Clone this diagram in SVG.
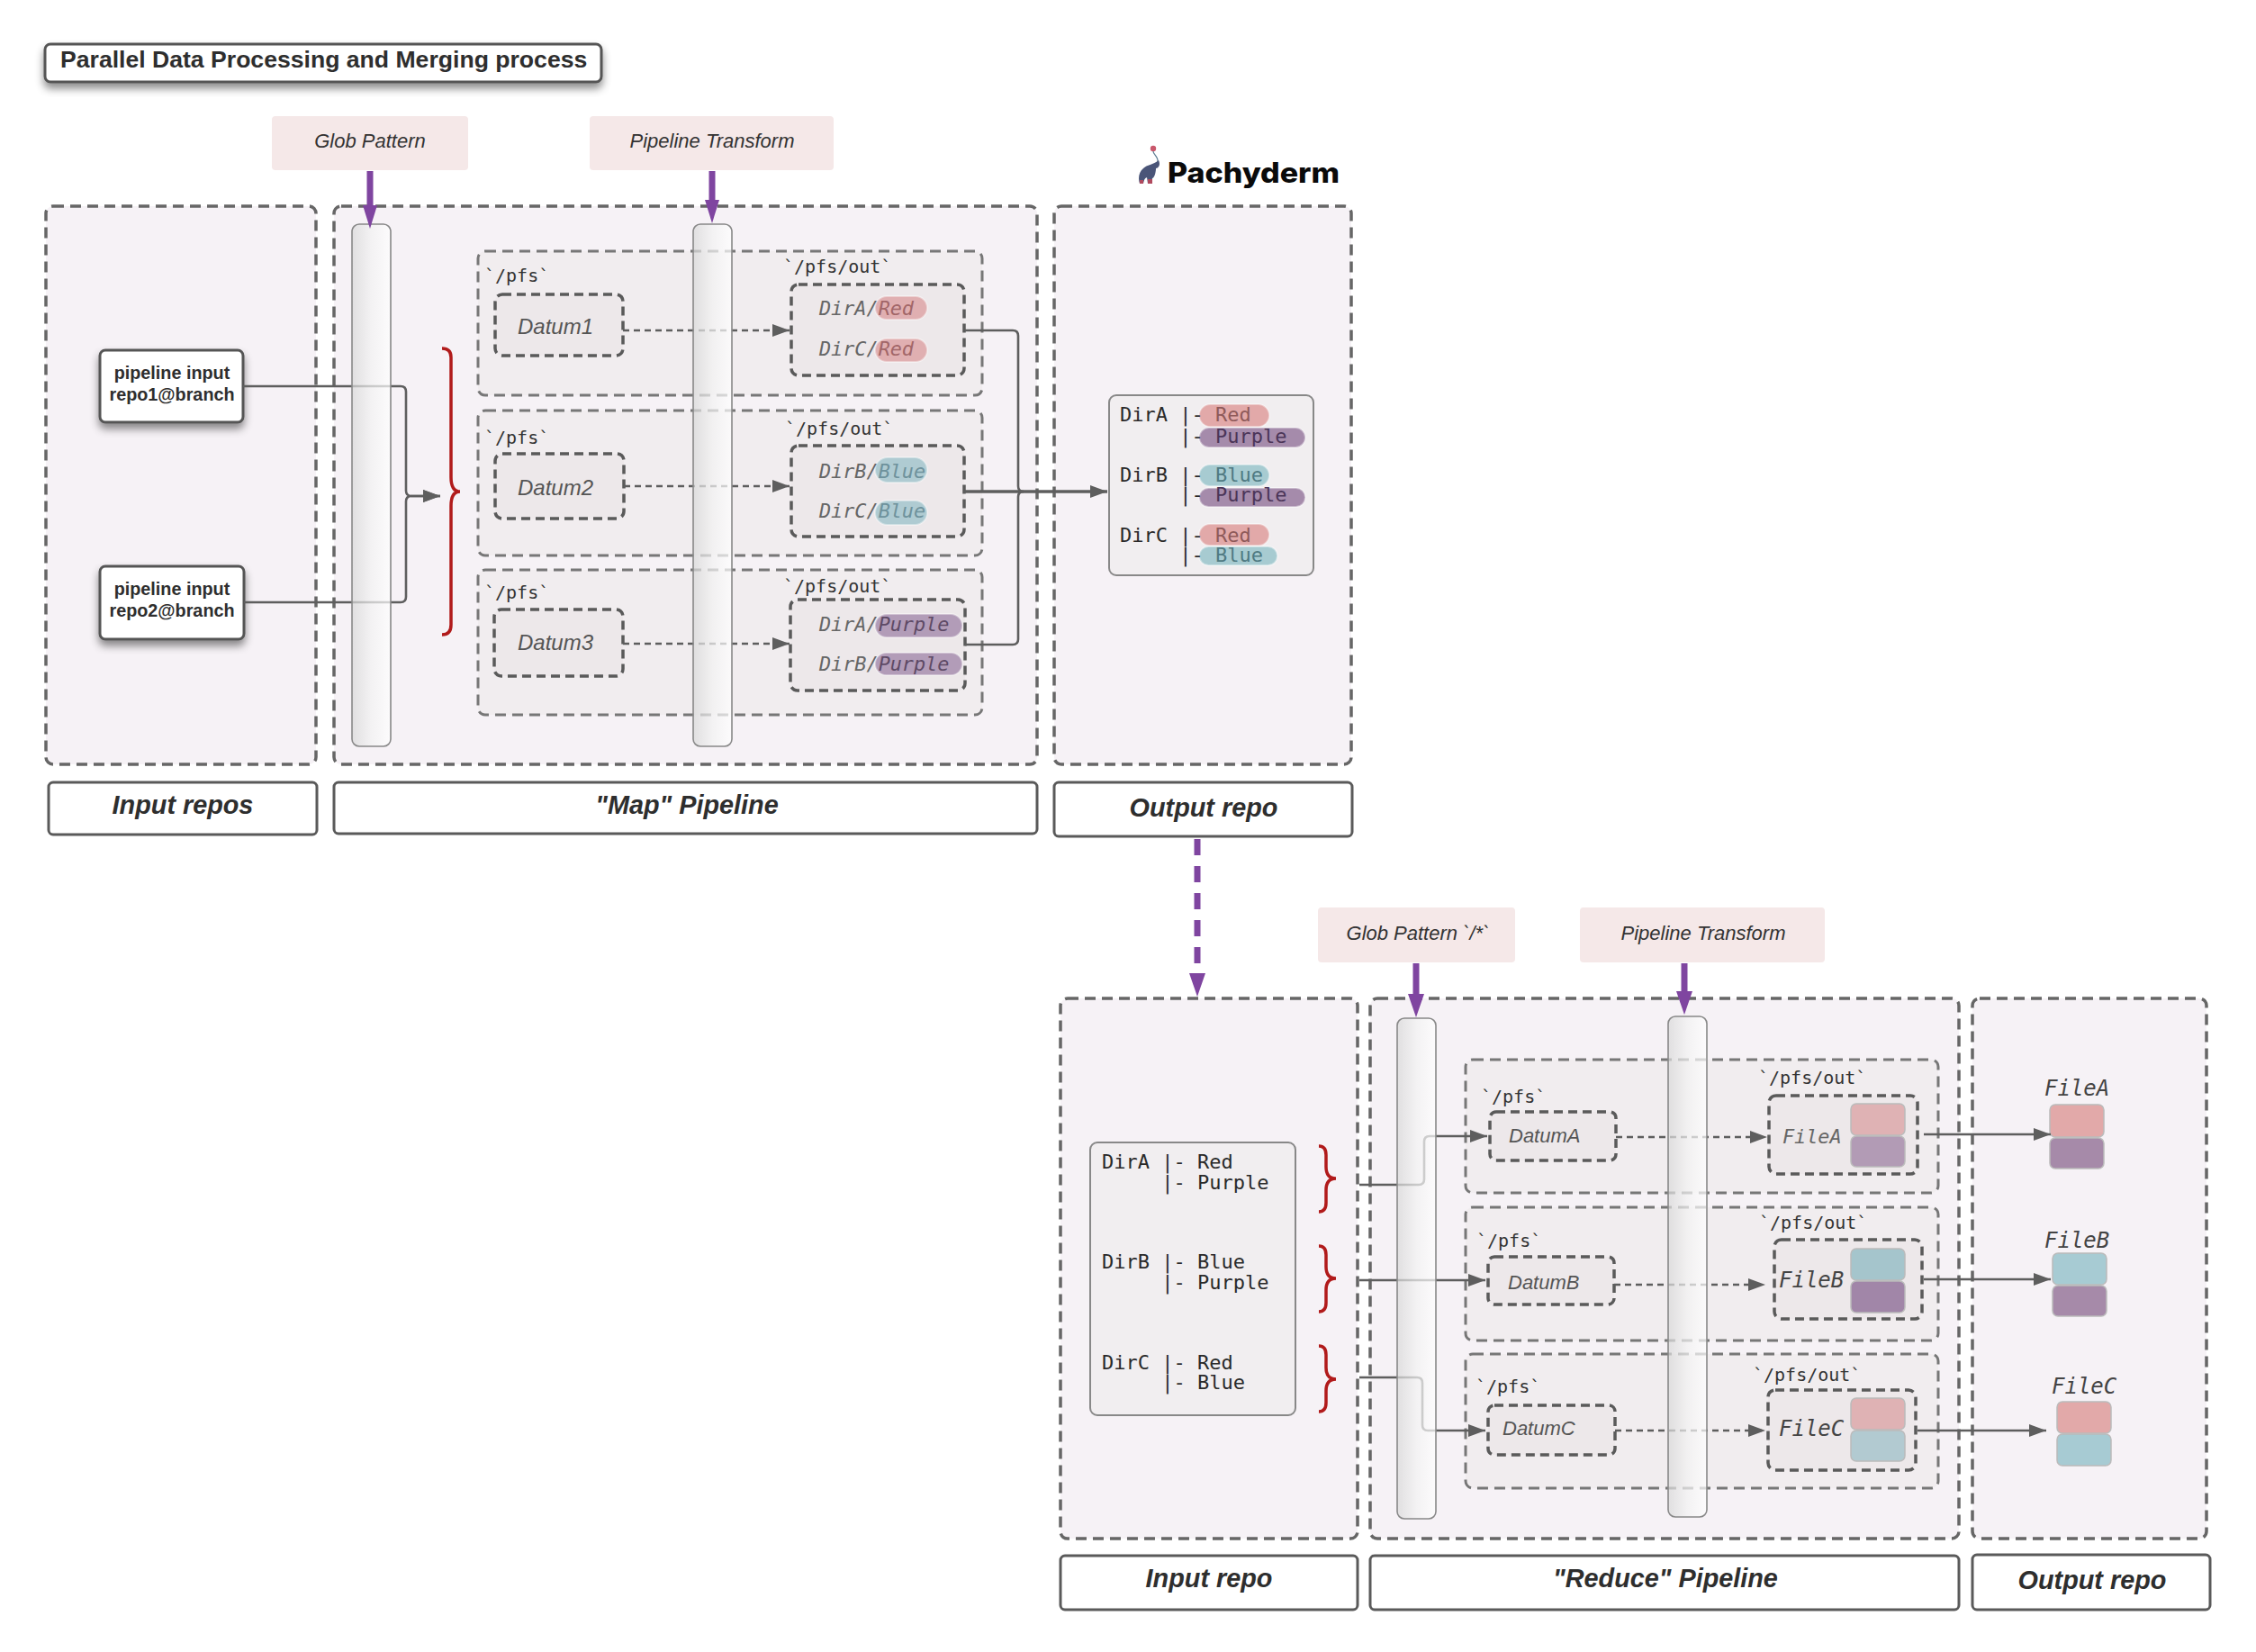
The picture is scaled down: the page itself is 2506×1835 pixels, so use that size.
<svg xmlns="http://www.w3.org/2000/svg" width="2506" height="1835" viewBox="0 0 2506 1835">
<style>
text{white-space:pre}
.sans{font-family:"Liberation Sans",Arial,sans-serif}
.mono{font-family:"DejaVu Sans Mono",monospace;fill:#333}
.cont{fill:#f6f2f6;stroke:#666;stroke-width:3.5;stroke-dasharray:12 7}
.pfs{fill:#f1edef;stroke:#777;stroke-width:3;stroke-dasharray:12 7}
.inner{fill:#ede8ea;stroke:#5a5a5a;stroke-width:3.5;stroke-dasharray:10 6}
.lab{fill:#fff;stroke:#5a5a5a;stroke-width:3}
.labt{font:italic bold 28.8px "Liberation Sans",Arial,sans-serif;fill:#2e2e2e;text-anchor:middle}
.pink{fill:#f5e8e8}
.pinkt{font:italic 22px "Liberation Sans",Arial,sans-serif;fill:#333;text-anchor:middle}
.dat{font:italic 24px "Liberation Sans",Arial,sans-serif;fill:#555}
.dat2{font:italic 22px "Liberation Sans",Arial,sans-serif;fill:#555}
.pfst{font-size:20px}
.dir{font-size:21.8px;font-style:italic;fill:#666}
.tree{font-size:22px;fill:#2a2a2a}
.file{font-size:24px;font-style:italic;fill:#444}
.pill{stroke:#fff;stroke-opacity:.4;stroke-width:2}
.r{fill:#e2a9a9}.b{fill:#a7cbd1}.p{fill:#a58bab}.pl{fill:#b29cb8}
.rl{fill:#e0afb1}.bl{fill:#afcbd2}
.tr{fill:#8f5a5a}.tb{fill:#4f7a82}.tp{fill:#4b3558}
.trl{fill:#a26668}.tbl{fill:#6e929c}.tpl{fill:#5e4a66}
.block{stroke:#bbb;stroke-width:1.5}
.box{fill:#f1eef0;stroke:#888;stroke-width:2}
.pillar{fill:url(#pg);stroke:#888;stroke-width:1.6}
.conn{fill:none;stroke:#5e5e5e;stroke-width:2.6}
.main{fill:none;stroke:#5e5e5e;stroke-width:3.4}
.dash{fill:none;stroke:#5e5e5e;stroke-width:2.6;stroke-dasharray:7 5}
.ph{fill:#5e5e5e}
.brace{fill:none;stroke:#b11b1b;stroke-width:3.5}
.pur{fill:none;stroke:#7f45a0;stroke-width:7}
.purh{fill:#7f45a0}
</style>
<defs>
<linearGradient id="pg" x1="0" x2="1" y1="0" y2="0"><stop offset="0" stop-color="#d8d8d8" stop-opacity=".72"/><stop offset=".5" stop-color="#f2f2f2" stop-opacity=".72"/><stop offset="1" stop-color="#ffffff" stop-opacity=".72"/></linearGradient>
<filter id="sh" x="-10%" y="-30%" width="120%" height="170%"><feDropShadow dx="0" dy="6" stdDeviation="5" flood-color="#000" flood-opacity=".45"/></filter>
<marker id="ah" viewBox="0 0 19 14" refX="19" refY="7" markerUnits="userSpaceOnUse" markerWidth="19" markerHeight="14" orient="auto"><path class="ph" d="M0 0L19 7L0 14Z"/></marker>
</defs>

<g id="title"><rect x="50" y="49" width="618" height="42" rx="6" fill="#fff" stroke="#555" stroke-width="3" filter="url(#sh)"/><text class="sans" x="67" y="75" font-size="26.6" font-weight="700" fill="#2e2e2e">Parallel Data Processing and Merging process</text></g>

<g id="logo">
<circle cx="1281" cy="165" r="3.2" fill="#c9586c"/><path d="M1281 168C1281 172 1287 174 1286 180" fill="none" stroke="#5a7a90" stroke-width="1.2"/>
<path d="M1287 178C1289 182 1288 186 1284 187C1284 192 1282 198 1280 198L1279 204H1275L1274 197C1272 198 1271 199 1270 204H1266C1264 198 1265 191 1270 187C1274 183 1281 183 1287 178Z" fill="#4a5578"/>
<rect x="1275" y="199" width="5" height="5" fill="#b04a5e"/><rect x="1266" y="200" width="4" height="4" fill="#b04a5e"/>
<text x="1297" y="203" font-family="Inter,sans-serif" font-size="31" font-weight="800" fill="#0a0a0a" textLength="191" lengthAdjust="spacingAndGlyphs">Pachyderm</text></g>

<g id="containers">
<rect id="input-repos" class="cont" x="51" y="229" width="300" height="620" rx="8"/>
<rect id="map-pipeline" class="cont" x="371" y="229" width="781" height="620" rx="8"/>
<rect id="output-repo" class="cont" x="1171" y="229" width="330" height="620" rx="8"/>
<rect id="input-repo" class="cont" x="1178" y="1109" width="330" height="600" rx="8"/>
<rect id="reduce-pipeline" class="cont" x="1522" y="1109" width="654" height="600" rx="8"/>
<rect id="output-repo2" class="cont" x="2191" y="1109" width="260" height="600" rx="8"/>
</g>

<g id="bar-labels">
<g id="l1"><rect class="lab" x="54" y="869" width="298" height="58" rx="5"/><text class="labt" x="203" y="904">Input repos</text></g>
<g id="l2"><rect class="lab" x="371" y="869" width="781" height="57" rx="5"/><text class="labt" x="763" y="904">"Map" Pipeline</text></g>
<g id="l3"><rect class="lab" x="1171" y="869" width="331" height="60" rx="5"/><text class="labt" x="1337" y="907">Output repo</text></g>
<g id="l4"><rect class="lab" x="1178" y="1728" width="330" height="60" rx="5"/><text class="labt" x="1343" y="1763">Input repo</text></g>
<g id="l5"><rect class="lab" x="1522" y="1728" width="654" height="60" rx="5"/><text class="labt" x="1850" y="1763">"Reduce" Pipeline</text></g>
<g id="l6"><rect class="lab" x="2191" y="1727" width="264" height="61" rx="5"/><text class="labt" x="2324" y="1765">Output repo</text></g>
</g>

<g id="callouts">
<g id="glob1"><rect class="pink" x="302" y="129" width="218" height="60" rx="4"/><text class="pinkt" x="411" y="164">Glob Pattern</text></g>
<g id="pt1"><rect class="pink" x="655" y="129" width="271" height="60" rx="4"/><text class="pinkt" x="791" y="164">Pipeline Transform</text></g>
<g id="glob2"><rect class="pink" x="1464" y="1008" width="219" height="61" rx="4"/><text class="pinkt" x="1575" y="1044">Glob Pattern `/*`</text></g>
<g id="pt2"><rect class="pink" x="1755" y="1008" width="272" height="61" rx="4"/><text class="pinkt" x="1892" y="1044">Pipeline Transform</text></g>
</g>

<g id="map-rows">
<g id="map1"><rect class="pfs" x="531" y="279" width="560" height="160" rx="8"/><text class="mono pfst" x="538" y="313">`/pfs`</text><text class="mono pfst" x="870" y="303">`/pfs/out`</text>
<rect class="inner" x="550" y="327" width="142" height="68" rx="8"/><text class="dat" x="575" y="371">Datum1</text>
<rect class="inner" x="879" y="316" width="192" height="101" rx="8"/>
<rect class="pill rl" x="972" y="329" width="58" height="26" rx="13"/><rect class="pill rl" x="972" y="376" width="58" height="26" rx="13"/>
<text class="mono dir" x="910" y="350">DirA/<tspan class="trl">Red</tspan></text><text class="mono dir" x="910" y="395">DirC/<tspan class="trl">Red</tspan></text></g>
<g id="map2"><rect class="pfs" x="531" y="456" width="560" height="161" rx="8"/><text class="mono pfst" x="538" y="493">`/pfs`</text><text class="mono pfst" x="872" y="483">`/pfs/out`</text>
<rect class="inner" x="550" y="504" width="143" height="72" rx="8"/><text class="dat" x="575" y="550">Datum2</text>
<rect class="inner" x="879" y="495" width="192" height="101" rx="8"/>
<rect class="pill bl" x="972" y="508" width="58" height="28" rx="14"/><rect class="pill bl" x="972" y="556" width="58" height="27" rx="13.5"/>
<text class="mono dir" x="910" y="531">DirB/<tspan class="tbl">Blue</tspan></text><text class="mono dir" x="910" y="575">DirC/<tspan class="tbl">Blue</tspan></text></g>
<g id="map3"><rect class="pfs" x="531" y="633" width="560" height="161" rx="8"/><text class="mono pfst" x="538" y="665">`/pfs`</text><text class="mono pfst" x="870" y="658">`/pfs/out`</text>
<rect class="inner" x="549" y="677" width="143" height="74" rx="8"/><text class="dat" x="575" y="722">Datum3</text>
<rect class="inner" x="878" y="666" width="194" height="101" rx="8"/>
<rect class="pill pl" x="972" y="682" width="97" height="26" rx="13"/><rect class="pill pl" x="972" y="725" width="97" height="25" rx="12.5"/>
<text class="mono dir" x="910" y="701">DirA/<tspan class="tpl">Purple</tspan></text><text class="mono dir" x="910" y="745">DirB/<tspan class="tpl">Purple</tspan></text></g>
</g>

<g id="reduce-rows">
<g id="redA"><rect class="pfs" x="1628" y="1177" width="525" height="148" rx="8"/><text class="mono pfst" x="1645" y="1225">`/pfs`</text><text class="mono pfst" x="1953" y="1204">`/pfs/out`</text>
<rect class="inner" x="1655" y="1235" width="140" height="54" rx="7"/><text class="dat2" x="1676" y="1269">DatumA</text>
<rect class="inner" x="1965" y="1217" width="165" height="87" rx="8"/><text class="mono dir" x="1980" y="1270">FileA</text>
<rect class="block" x="2056" y="1226" width="60" height="35" rx="6" fill="#dfb2b4"/><rect class="block" x="2056" y="1262" width="60" height="34" rx="6" fill="#b29bb5"/></g>
<g id="redB"><rect class="pfs" x="1628" y="1341" width="525" height="148" rx="8"/><text class="mono pfst" x="1640" y="1385">`/pfs`</text><text class="mono pfst" x="1954" y="1365">`/pfs/out`</text>
<rect class="inner" x="1653" y="1396" width="140" height="53" rx="7"/><text class="dat2" x="1675" y="1432">DatumB</text>
<rect class="inner" x="1971" y="1377" width="164" height="88" rx="8"/><text class="mono file" x="1976" y="1430">FileB</text>
<rect class="block" x="2056" y="1387" width="60" height="35" rx="6" fill="#a5c5cc"/><rect class="block" x="2056" y="1423" width="60" height="35" rx="6" fill="#a186a8"/></g>
<g id="redC"><rect class="pfs" x="1628" y="1504" width="525" height="149" rx="8"/><text class="mono pfst" x="1639" y="1547">`/pfs`</text><text class="mono pfst" x="1947" y="1534">`/pfs/out`</text>
<rect class="inner" x="1653" y="1561" width="141" height="55" rx="7"/><text class="dat2" x="1669" y="1594">DatumC</text>
<rect class="inner" x="1964" y="1544" width="164" height="89" rx="8"/><text class="mono file" x="1976" y="1595">FileC</text>
<rect class="block" x="2056" y="1553" width="60" height="35" rx="6" fill="#dfb2b4"/><rect class="block" x="2056" y="1589" width="60" height="34" rx="6" fill="#b2cad1"/></g>
</g>

<g id="pipeline-input-1"><rect x="111" y="389" width="159" height="80" rx="6" fill="#fff" stroke="#555" stroke-width="3" filter="url(#sh)"/><text class="sans" font-size="19.8" font-weight="700" fill="#2e2e2e" text-anchor="middle"><tspan x="191" y="421">pipeline input</tspan><tspan x="191" y="445">repo1@branch</tspan></text></g>
<g id="pipeline-input-2"><rect x="111" y="629" width="160" height="81" rx="6" fill="#fff" stroke="#555" stroke-width="3" filter="url(#sh)"/><text class="sans" font-size="19.8" font-weight="700" fill="#2e2e2e" text-anchor="middle"><tspan x="191" y="661">pipeline input</tspan><tspan x="191" y="685">repo2@branch</tspan></text></g>

<g id="output-tree"><rect class="box" x="1232" y="439" width="227" height="200" rx="8"/>
<rect class="pill r" x="1332" y="449" width="78" height="25" rx="12.5"/><rect class="pill p" x="1332" y="475" width="118" height="22" rx="11"/>
<rect class="pill b" x="1332" y="516" width="78" height="24" rx="12"/><rect class="pill p" x="1332" y="542" width="118" height="21" rx="10.5"/>
<rect class="pill r" x="1332" y="582" width="78" height="24" rx="12"/><rect class="pill b" x="1332" y="607" width="87" height="21" rx="10.5"/>
<text class="mono tree" x="1244" y="468">DirA |- <tspan class="tr">Red</tspan></text><text class="mono tree" x="1244" y="492">     |- <tspan class="tp">Purple</tspan></text>
<text class="mono tree" x="1244" y="535">DirB |- <tspan class="tb">Blue</tspan></text><text class="mono tree" x="1244" y="557">     |- <tspan class="tp">Purple</tspan></text>
<text class="mono tree" x="1244" y="602">DirC |- <tspan class="tr">Red</tspan></text><text class="mono tree" x="1244" y="624">     |- <tspan class="tb">Blue</tspan></text></g>

<g id="input-tree"><rect class="box" x="1211" y="1269" width="228" height="303" rx="8"/>
<text class="mono tree" x="1224" y="1298">DirA |- Red</text><text class="mono tree" x="1224" y="1321">     |- Purple</text>
<text class="mono tree" x="1224" y="1409">DirB |- Blue</text><text class="mono tree" x="1224" y="1432">     |- Purple</text>
<text class="mono tree" x="1224" y="1521">DirC |- Red</text><text class="mono tree" x="1224" y="1543">     |- Blue</text></g>

<g id="outputs">
<g id="fileA"><text class="mono file" x="2271" y="1217">FileA</text><rect class="block" x="2277" y="1227" width="60" height="36" rx="6" fill="#e2a9a9"/><rect class="block" x="2277" y="1264" width="60" height="34" rx="6" fill="#a68aa9"/></g>
<g id="fileB"><text class="mono file" x="2271" y="1386">FileB</text><rect class="block" x="2280" y="1392" width="60" height="35" rx="6" fill="#a7cbd3"/><rect class="block" x="2280" y="1428" width="60" height="34" rx="6" fill="#a68aa9"/></g>
<g id="fileC"><text class="mono file" x="2279" y="1548">FileC</text><rect class="block" x="2285" y="1557" width="60" height="35" rx="6" fill="#e2a9a9"/><rect class="block" x="2285" y="1593" width="60" height="35" rx="6" fill="#a7cbd3"/></g>
</g>

<g id="connectors">
<path class="conn" d="M270 429H445Q451 429 451 435V545Q451 551 457 551H489" marker-end="url(#ah)"/>
<path class="conn" d="M271 669H445Q451 669 451 663V557Q451 551 457 551H489" marker-end="url(#ah)"/>
<path class="dash" d="M692 367H877" marker-end="url(#ah)"/>
<path class="dash" d="M693 540H877" marker-end="url(#ah)"/>
<path class="dash" d="M692 715H877" marker-end="url(#ah)"/>
<path class="conn" d="M1072 367H1125Q1131 367 1131 373V540Q1131 546 1137 546"/>
<path class="conn" d="M1072 716H1125Q1131 716 1131 710V552Q1131 546 1137 546"/>
<path class="main" d="M1071 546H1230" marker-end="url(#ah)"/>
<path class="conn" d="M1510 1316H1576Q1582 1316 1582 1310V1268Q1582 1262 1588 1262H1652" marker-end="url(#ah)"/>
<path class="conn" d="M1510 1422H1650" marker-end="url(#ah)"/>
<path class="conn" d="M1510 1530H1574Q1580 1530 1580 1536V1583Q1580 1589 1586 1589H1650" marker-end="url(#ah)"/>
<path class="dash" d="M1795 1263H1963" marker-end="url(#ah)"/>
<path class="dash" d="M1793 1427H1961" marker-end="url(#ah)"/>
<path class="dash" d="M1794 1589H1961" marker-end="url(#ah)"/>
<path class="conn" d="M2137 1260H2278" marker-end="url(#ah)"/>
<path class="conn" d="M2137 1421H2278" marker-end="url(#ah)"/>
<path class="conn" d="M2130 1589H2273" marker-end="url(#ah)"/>
</g>

<g id="pillars">
<rect class="pillar" x="391" y="249" width="43" height="580" rx="8"/>
<rect class="pillar" x="770" y="249" width="43" height="580" rx="8"/>
<rect class="pillar" x="1552" y="1131" width="43" height="556" rx="8"/>
<rect class="pillar" x="1853" y="1129" width="43" height="556" rx="8"/>
</g>

<g id="braces">
<path class="brace" d="M491 387Q501 387 501 397V530Q501 546 511 546Q501 546 501 562V694Q501 705 491 705"/>
<path class="brace" d="M1465 1273Q1473 1273 1473 1283V1296Q1473 1309 1484 1309Q1473 1309 1473 1322V1336Q1473 1346 1465 1346"/>
<path class="brace" d="M1465 1384Q1473 1384 1473 1394V1407Q1473 1420 1484 1420Q1473 1420 1473 1433V1447Q1473 1457 1465 1457"/>
<path class="brace" d="M1465 1495Q1473 1495 1473 1505V1519Q1473 1532 1484 1532Q1473 1532 1473 1545V1558Q1473 1568 1465 1568"/>
</g>

<g id="purple-arrows">
<path class="pur" d="M411 190V230"/><path class="purh" d="M403 228H419L411 254Z"/>
<path class="pur" d="M791 190V224"/><path class="purh" d="M783 222H799L791 248Z"/>
<path class="pur" d="M1573 1070V1116"/><path class="purh" d="M1564 1104H1582L1573 1130Z"/>
<path class="pur" d="M1871 1070V1114"/><path class="purh" d="M1862 1101H1880L1871 1127Z"/>
<path class="pur" stroke-dasharray="18 12" d="M1330 932V1084"/><path class="purh" d="M1321 1081H1339L1330 1107Z"/>
</g>
</svg>
